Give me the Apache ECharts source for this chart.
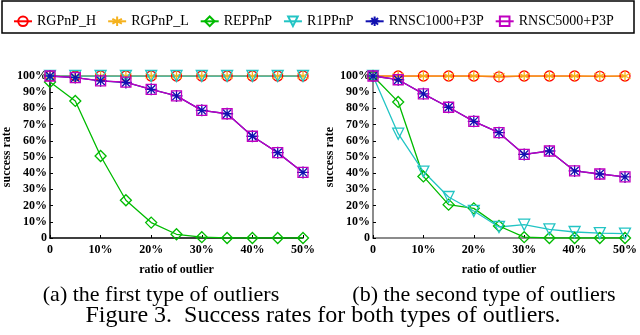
<!DOCTYPE html>
<html>
<head>
<meta charset="utf-8">
<script src="https://cdn.jsdelivr.net/npm/echarts@6/dist/echarts.min.js"></script>
<style>
  html, body { margin: 0; padding: 0; background: #fff; }
  #chart { width: 640px; height: 335px; }
</style>
</head>
<body>
<div id="chart"></div>
<script>
// x positions (ratio of outlier, %)
const ratios = [0, 5, 10, 15, 20, 25, 30, 35, 40, 45, 50]
const yTicks = [0, 10, 20, 30, 40, 50, 60, 70, 80, 90, 100]

// (a) first type of outliers
const aRGPnP_H = [100, 100, 100, 100, 100, 100, 100, 100, 100, 100, 100]
const aRGPnP_L = [100, 100, 100, 100, 100, 100, 100, 100, 100, 100, 100]
const aREPPnP = [96.3, 84.6, 50.6, 23.3, 9.5, 2.3, 0.5, 0, 0, 0, 0]
const aR1PPnP = [100, 100, 100, 100, 100, 100, 100, 100, 100, 100, 100]
const aRNSC1000 = [100, 99, 97, 96, 91.8, 87.7, 78.8, 76.7, 62.8, 52.7, 40.5]
const aRNSC5000 = [100, 99, 97, 96.2, 91.8, 87.7, 78.8, 76.7, 62.8, 52.7, 40.5]

// (b) second type of outliers
const bRGPnP_H = [100, 100, 100, 100, 100, 99.5, 100, 100, 100, 99.8, 100]
const bRGPnP_L = [100, 100, 100, 100, 100, 100, 100, 100, 100, 100, 100]
const bREPPnP = [100, 84, 38, 20.6, 18.3, 7.4, 0.5, 0, 0, 0, 0]
const bR1PPnP = [100, 64.4, 41, 25.3, 16.7, 6.8, 8.2, 5.3, 3.7, 3, 2.7]
const bRNSC1000 = [100, 97.7, 89, 80.7, 72, 65, 51.6, 53.7, 41.4, 39.5, 37.7]
const bRNSC5000 = [100, 97.7, 89, 80.7, 72, 65, 51.6, 53.7, 41.4, 39.5, 37.7]

const names = ['RGPnP_H', 'RGPnP_L', 'REPPnP', 'R1PPnP', 'RNSC1000+P3P', 'RNSC5000+P3P']
const colors = ['#ff0000', '#f5b21e', '#00bb00', '#22c4c4', '#1010b0', '#c000c0']
const symbols = [
  'path://M1,0A1,1 0 1,1 -1,0A1,1 0 1,1 1,0Z',
  'path://M0,-1L0,1M-0.87,-0.5L0.87,0.5M-0.87,0.5L0.87,-0.5',
  'path://M0,-1L1,0L0,1L-1,0Z',
  'path://M-1,-0.85L1,-0.85L0,0.85Z',
  'path://M0,-1L0,1M-1,0L1,0M-0.7,-0.7L0.7,0.7M-0.7,0.7L0.7,-0.7',
  'path://M-1,-0.8L1,-0.8L1,0.8L-1,0.8Z'
]
const symSizes = [10, 11, 11, 11, 12, 10]

const serif = 'Liberation Serif'
const pct = v => (v === 0 ? '0' : v + '%')

function mkSeries(idx, data, gridIdx) {
  return {
    name: names[idx],
    type: 'line',
    xAxisIndex: gridIdx,
    yAxisIndex: gridIdx,
    data: ratios.map((x, i) => [x, data[i]]),
    symbol: symbols[idx],
    symbolSize: symSizes[idx],
    showAllSymbol: true,
    animation: false,
    lineStyle: { color: colors[idx], width: 1.3 },
    itemStyle: { color: 'none', borderColor: colors[idx], borderWidth: 1.3 }
  }
}

function xAx(gridIdx) {
  return {
    type: 'value', gridIndex: gridIdx,
    min: 0, max: 50, interval: 10,
    name: 'ratio of outlier', nameLocation: 'middle', nameGap: 26,
    nameTextStyle: { fontFamily: serif, fontWeight: 'bold', fontSize: 12, color: '#000' },
    axisLine: { lineStyle: { color: gridIdx ? '#666' : '#000', width: 1.5 } },
    axisTick: { inside: true, length: 3, lineStyle: { color: '#000' } },
    axisLabel: { formatter: pct, margin: 6, fontFamily: serif, fontWeight: 'bold', fontSize: 12, color: '#000' },
    splitLine: { show: false }
  }
}

function yAx(gridIdx) {
  return {
    type: 'value', gridIndex: gridIdx,
    min: yTicks[0], max: yTicks[yTicks.length - 1], interval: 10,
    name: 'success rate', nameLocation: 'middle', nameGap: 37,
    nameTextStyle: { fontFamily: serif, fontWeight: 'bold', fontSize: 12, color: '#000' },
    axisLine: { show: true, lineStyle: { color: gridIdx ? '#666' : '#000', width: 1.5 } },
    axisTick: { show: true, inside: true, length: 3, lineStyle: { color: '#000' } },
    axisLabel: { formatter: pct, margin: 3, fontFamily: serif, fontWeight: 'bold', fontSize: 12, color: '#000' },
    splitLine: { show: false }
  }
}

const chart = echarts.init(document.getElementById('chart'), null, { renderer: 'canvas' })

const captionFont = '22px "Liberation Serif"'

chart.setOption({
  backgroundColor: '#fff',
  animation: false,
  legend: {
    data: names,
    left: 8, top: 9, width: 630,
    itemWidth: 18, itemHeight: 12, itemGap: 11,
    textStyle: { fontFamily: serif, fontSize: 14, color: '#000' }
  },
  graphic: [
    { type: 'rect', shape: { x: 2, y: 1, width: 632, height: 32 },
      style: { fill: 'none', stroke: '#000', lineWidth: 1.5 } },
    { type: 'text', x: 161, y: 295,
      style: { text: '(a) the first type of outliers', fill: '#000', font: captionFont, textAlign: 'center', textVerticalAlign: 'middle' } },
    { type: 'text', x: 484, y: 295,
      style: { text: '(b) the second type of outliers', fill: '#000', font: captionFont, textAlign: 'center', textVerticalAlign: 'middle' } },
    { type: 'text', x: 323, y: 316,
      style: { text: 'Figure 3.  Success rates for both types of outliers.', fill: '#000', font: '24px "Liberation Serif"', textAlign: 'center', textVerticalAlign: 'middle' } }
  ],
  grid: [
    { left: 49, right: 337, top: 76, bottom: 97 },
    { left: 373, right: 13, top: 76, bottom: 97 }
  ],
  xAxis: [xAx(0), xAx(1)],
  yAxis: [yAx(0), yAx(1)],
  series: [
    mkSeries(0, aRGPnP_H, 0),
    mkSeries(1, aRGPnP_L, 0),
    mkSeries(2, aREPPnP, 0),
    mkSeries(3, aR1PPnP, 0),
    mkSeries(4, aRNSC1000, 0),
    mkSeries(5, aRNSC5000, 0),
    mkSeries(0, bRGPnP_H, 1),
    mkSeries(1, bRGPnP_L, 1),
    mkSeries(2, bREPPnP, 1),
    mkSeries(3, bR1PPnP, 1),
    mkSeries(4, bRNSC1000, 1),
    mkSeries(5, bRNSC5000, 1)
  ]
})
</script>
</body>
</html>
